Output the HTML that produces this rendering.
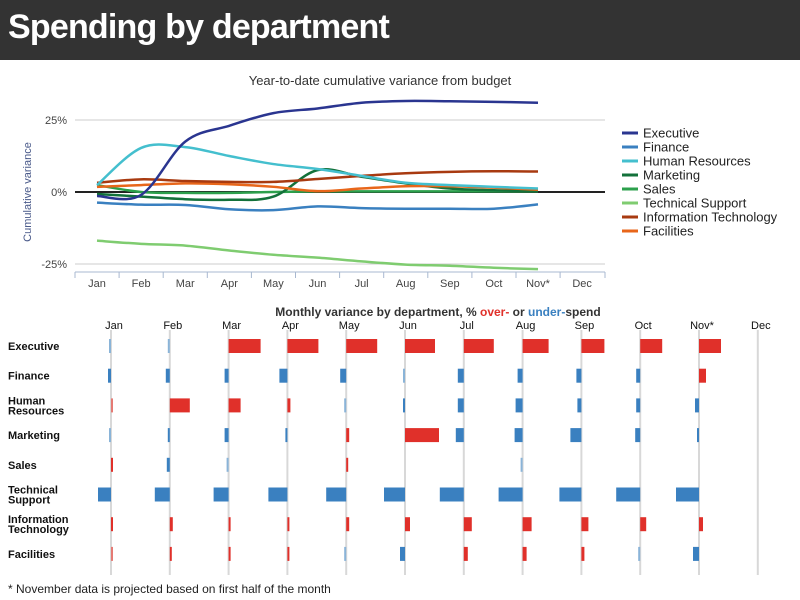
<!DOCTYPE html>
<html><head><meta charset="utf-8"><style>
body{margin:0;width:800px;height:600px;overflow:hidden;background:#fff;font-family:"Liberation Sans",sans-serif}
#hdr{position:absolute;left:0;top:0;width:800px;height:60px;background:#333}
#hdr h1{margin:0;position:absolute;left:8px;top:8px;color:#fff;font-size:34px;font-weight:bold;letter-spacing:-0.8px}
svg{position:absolute;left:0;top:0}
#foot{position:absolute;left:8px;top:582px;font-size:12px;color:#222}
</style></head><body>
<div id="hdr"><h1>Spending by department</h1></div>
<svg id="chart" width="800" height="600"></svg>
<div id="foot">* November data is projected based on first half of the month</div>
<script>
const months = ["Jan","Feb","Mar","Apr","May","Jun","Jul","Aug","Sep","Oct","Nov*","Dec"];
const depts = ["Executive","Finance","Human Resources","Marketing","Sales","Technical Support","Information Technology","Facilities"];
const rowLabels = [["Executive"],["Finance"],["Human","Resources"],["Marketing"],["Sales"],["Technical","Support"],["Information","Technology"],["Facilities"]];
const colors = ["#2a3590","#3a80c0","#44bfce","#13713a","#2ca04c","#7fcc70","#a83a10","#e8661a"];
const yTicks = [25,0,-25];
const yTickLabels = ["25%","0%","-25%"];
const cumExecutive = [-1.4,-1,17.5,23,27.4,29,31,31.6,31.5,31.3,31];
const cumFinance = [-3.7,-4.4,-4.5,-6,-6.3,-5,-5.6,-5.8,-5.8,-5.8,-4.3];
const cumHR = [2.4,15.3,15.6,12.5,9.7,8,5.6,3.2,2.4,1.8,1.2];
const cumMarketing = [-0.7,-1.6,-2.5,-2.7,-1.6,7.6,5.3,3,1.2,0.6,0.3];
const cumSales = [2.4,0,-0.3,-0.3,0,0.2,0.2,0.2,0.2,0.2,0.2];
const cumTech = [-16.9,-18,-18.6,-20.3,-21.8,-22.8,-24.1,-25.2,-25.6,-26.3,-26.8];
const cumIT = [3.2,4.4,3.8,3.5,3.5,4.5,5.6,6.5,7,7.2,7.1];
const cumFacilities = [1.8,2.4,3,2.7,1.8,0.3,1.2,2,2,1.5,0.8];
const cumSeries = [cumExecutive,cumFinance,cumHR,cumMarketing,cumSales,cumTech,cumIT,cumFacilities];
const monExecutive = [-1,-1,32,31,31,30,30,26,23,22,22];
const monFinance = [-3,-4,-4,-8,-6,-1,-6,-5,-5,-4,7];
const monHR = [1,20,12,3,-1,-2,-6,-7,-4,-4,-4];
const monMarketing = [-1,-2,-4,-2,3,34,-8,-8,-11,-5,-2];
const monSales = [2,-3,-1,0,2,0,0,-1,0,0,0];
const monTech = [-13,-15,-15,-19,-20,-21,-24,-24,-22,-24,-23];
const monIT = [2,3,2,2,3,5,8,9,7,6,4];
const monFacilities = [1,2,2,2,-1,-5,4,4,3,-1,-6];
const monSeries = [monExecutive,monFinance,monHR,monMarketing,monSales,monTech,monIT,monFacilities];

const NS="http://www.w3.org/2000/svg";
const svg=document.getElementById('chart');
function mk(tag,attrs,parent){const e=document.createElementNS(NS,tag);for(const k in attrs)e.setAttribute(k,attrs[k]);(parent||svg).appendChild(e);return e;}
const xTop=i=>97+i*44.1;
const yTop=v=>192-v*2.88;
let g=mk('g',{});


let t=mk('text',{x:380,y:85,'text-anchor':'middle','font-size':13,fill:'#333'},g);t.textContent="Year-to-date cumulative variance from budget";


yTicks.forEach((v,i)=>{
  const l=mk('line',{x1:75,x2:605,y1:yTop(v),y2:yTop(v),stroke:v===0?'#222':'#ccc','stroke-width':v===0?2:1},g);
  
  
  const tx=mk('text',{x:67,y:yTop(v)+4,'text-anchor':'end','font-size':11,fill:'#444'},g);tx.textContent=yTickLabels[i];
  
  
});
const ax=mk('line',{x1:75,x2:605,y1:272,y2:272,stroke:'#a8b8d0','stroke-width':1},g);


months.forEach((m,i)=>{
  const bx=75+i*44.1;
  mk('line',{x1:bx,x2:bx,y1:272,y2:278,stroke:'#a8b8d0'},g);
  const tx=mk('text',{x:xTop(i),y:287,'text-anchor':'middle','font-size':11,fill:'#444'},g);tx.textContent=m;
  
  
});
mk('line',{x1:605,x2:605,y1:272,y2:278,stroke:'#a8b8d0'},g);
let yt=mk('text',{x:0,y:0,transform:'translate(31,192) rotate(-90)','text-anchor':'middle','font-size':11,fill:'#4a5a8a'},g);yt.textContent="Cumulative variance";


function smooth(pts){let d=`M${pts[0][0]},${pts[0][1]}`;for(let i=0;i<pts.length-1;i++){const p0=pts[i-1]||pts[i],p1=pts[i],p2=pts[i+1],p3=pts[i+2]||p2;
 const c1=[p1[0]+(p2[0]-p0[0])/6,p1[1]+(p2[1]-p0[1])/6],c2=[p2[0]-(p3[0]-p1[0])/6,p2[1]-(p3[1]-p1[1])/6];d+=`C${c1[0]},${c1[1]} ${c2[0]},${c2[1]} ${p2[0]},${p2[1]}`;}return d;}
[4,1,5,3,7,6,2,0].forEach(k=>{
  const p=mk('path',{d:smooth(cumSeries[k].map((v,i)=>[xTop(i),yTop(v)])),fill:'none',stroke:colors[k],'stroke-width':2.5},g);
  
  
});
depts.forEach((d,k)=>{
  const y=133+k*14;
  const lg=mk('g',{},g);
  
  
  mk('line',{x1:622,x2:638,y1:y,y2:y,stroke:colors[k],'stroke-width':3},lg);
  const tx=mk('text',{x:643,y:y+4.5,'font-size':13,fill:'#222'},lg);tx.textContent=d;
});
const xBot=i=>111+i*58.8;
const barScale=1.0;
const rowY=r=>346+r*29.7;
let g2=mk('g',{});


let bt=mk('text',{x:438,y:316,'text-anchor':'middle','font-size':12,'font-weight':'bold',fill:'#333'},g2);
bt.innerHTML='Monthly variance by department, % <tspan fill="#e0302a">over-</tspan> or <tspan fill="#3a80c0">under-</tspan>spend';


months.forEach((m,i)=>{
  const l=mk('line',{x1:xBot(i),x2:xBot(i),y1:330,y2:575,stroke:'#d8d8d8','stroke-width':2},g2);
  
  
  const tx=mk('text',{x:xBot(i)+3,y:329,'text-anchor':'middle','font-size':11,fill:'#111'},g2);tx.textContent=m;
  
  
});
rowLabels.forEach((lab,r)=>{
  const tx=mk('text',{x:8,y:rowY(r)+(lab.length>1?-1:4),'font-size':11,'font-weight':'bold',fill:'#111'},g2);
  lab.forEach((s,j)=>{const ts=mk('tspan',{x:8,dy:j?10:0},tx);ts.textContent=s;});
  
  
});
monSeries.forEach((arr,r)=>{
  arr.forEach((v,i)=>{
    if(v===0)return;
    const w=Math.max(Math.abs(v)*barScale,2);
    const x=v>0?xBot(i):xBot(i)-w;
    const light=Math.abs(v)<=1;
    const c=v>0?(light?'#e57a74':'#e0302a'):(light?'#8ab4d8':'#3a80c0');
    const b=mk('rect',{x:x,y:rowY(r)-7,width:w,height:14,fill:c},g2);
    
    
  });
});
</script>
</body></html>
